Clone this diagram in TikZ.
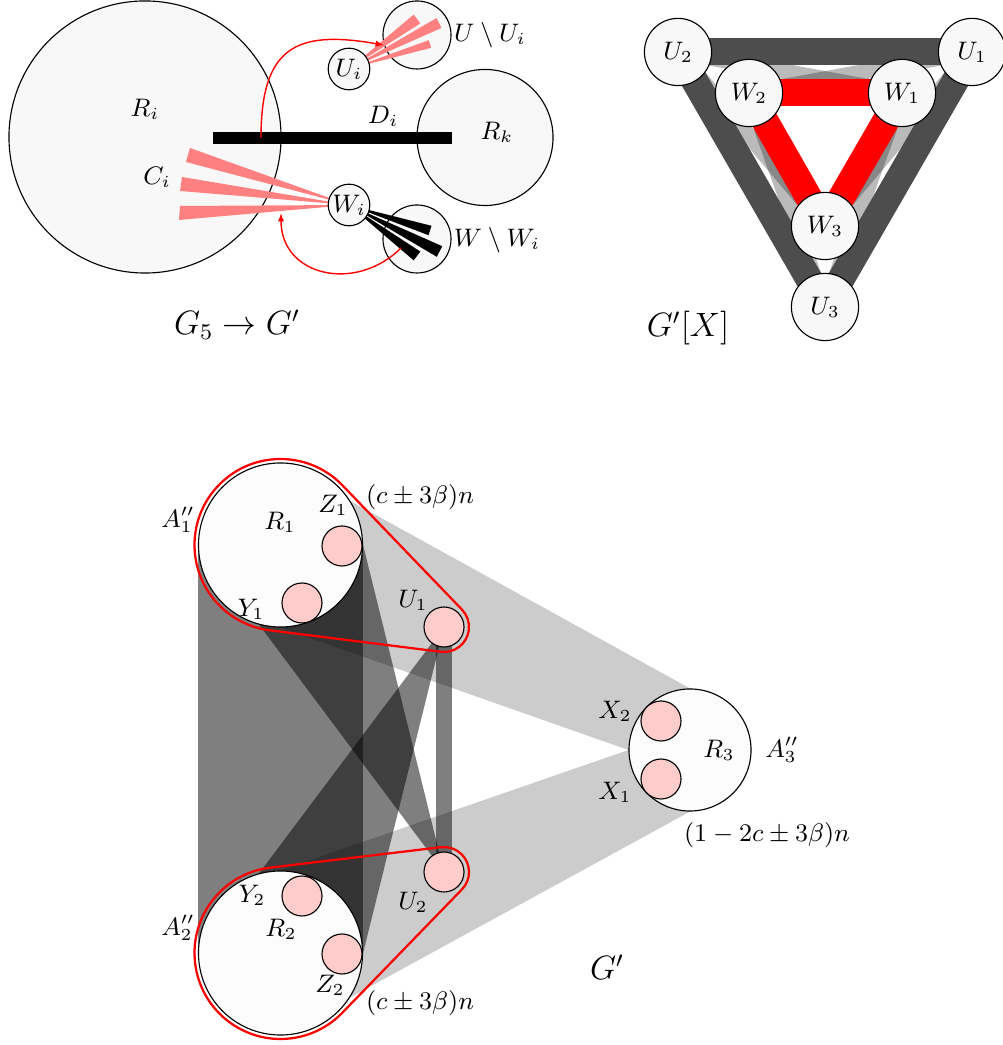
\documentclass[tikz,border=0pt]{standalone}
\usepackage{tikz}
\usetikzlibrary{arrows.meta,calc,backgrounds}
\definecolor{setfill}{HTML}{F8F8F8}
\definecolor{partfill}{HTML}{FCFCFC}
\definecolor{subfill}{HTML}{FFCCCC}
\definecolor{wedgepink}{HTML}{FF8080}
\definecolor{heavygray}{HTML}{4D4D4D}

\begin{document}
\begin{tikzpicture}[
    x=0.0125cm, y=0.0125cm, font=\small,
    set/.style={circle, draw, fill=setfill, inner sep=0pt},
    part/.style={circle, draw, fill=partfill, inner sep=0pt},
    sub/.style={circle, draw, fill=subfill, inner sep=0pt, minimum size=0.5cm},
    vtx/.style={circle, draw, fill=setfill, inner sep=0pt, minimum size=0.84cm},
    link/.style={-{Latex[length=3pt]}, red, line width=0.5pt},
    heavy/.style={line width=9.6pt, color=heavygray},
    redge/.style={line width=9.6pt, color=red},
    faint/.style={line width=5.5pt, color=black, opacity=0.27},
    dense/.style={fill=black, fill opacity=0.5},
    sparse/.style={fill=black, fill opacity=0.2},
    hull/.style={draw=red, line width=0.8pt},
    title/.style={font=\large}
]
\useasboundingbox (0,0) rectangle (1002,1045);

% G_5 -> G'
\node[set, minimum size=3.4cm] (Ri) at (145,908) {};
\node[set, minimum size=1.7cm] (Rk) at (485,907.5) {};
\node[set, minimum size=0.85cm] (UU) at (417,1010) {};
\node[set, minimum size=0.85cm] (WW) at (417,806) {};
\coordinate (Ucen) at (349,976);
\coordinate (Wcen) at (349,840);
\foreach \ax/\ay/\bx/\by in {420.3/1021.6/413.7/1030.4, 441.5/1017.1/436.5/1026.9, 431.2/997.2/428.8/1004.8}
    \fill[wedgepink] (Ucen) -- (\ax,\ay) -- (\bx,\by) -- cycle;
\foreach \ax/\ay/\bx/\by in {190/897/186/883, 182/868/180/854, 180/839/179/825}
    \fill[wedgepink] (Wcen) -- (\ax,\ay) -- (\bx,\by) -- cycle;
\foreach \ax/\ay/\bx/\by in {431.5/819.2/428.5/809.8, 442.2/798.8/436.8/788.2, 420.3/793.4/413.7/784.6}
    \fill[black] (Wcen) -- (\ax,\ay) -- (\bx,\by) -- cycle;
\node[set, minimum size=0.52cm] (Ui) at (Ucen) {$U_i$};
\node[set, minimum size=0.52cm] (Wi) at (Wcen) {$W_i$};
\coordinate (Dl) at (213,907);
\coordinate (Dr) at (452,907);
\draw[line width=4.6pt] (Dl) -- (Dr);
\node (RiLab) at (145,936) {$R_i$};
\node (CiLab) at (157,868) {$C_i$};
\node (DiLab) at (383,929) {$D_i$};
\node (RkLab) at (497,913) {$R_k$};
\node (UULab) at (490,1010) {$U\setminus U_i$};
\node (WWLab) at (497,805) {$W\setminus W_i$};
\coordinate (Dstart) at (261,907);
\coordinate (Wstart) at (401,797);
\coordinate (Ctip) at (281,832);
\draw[link] (Dstart) to[out=90, in=170, looseness=1.5] (UU.197);
\draw[link] (Wstart) to[out=-135, in=-90, looseness=1.3] (Ctip);
\node[title] (titleA) at (237,720) {$G_5\to G'$};

% G'[X]
\node[vtx] (u2) at (678,993) {$U_2$};
\node[vtx] (u1) at (972,993) {$U_1$};
\node[vtx] (w2) at (749,952) {$W_2$};
\node[vtx] (w1) at (902,952) {$W_1$};
\node[vtx] (w3) at (825,819) {$W_3$};
\node[vtx] (u3) at (825,738) {$U_3$};
\begin{scope}[on background layer]
    \foreach \a/\b in {u2/w1, u1/w2, u2/w3, u3/w2, u1/w3, u3/w1}
        \draw[faint] (\a.center) -- (\b.center);
    \foreach \a/\b in {u2/u1, u1/u3, u3/u2}
        \draw[heavy] (\a.center) -- (\b.center);
    \foreach \a/\b in {w2/w1, w1/w3, w3/w2}
        \draw[redge] (\a.center) -- (\b.center);
\end{scope}
\node[title] (titleB) at (688,717) {$G'[X]$};

% G'
\node[part, minimum size=2.05cm] (R1) at (280.5,500) {};
\node[part, minimum size=2.05cm] (R2) at (280.5,92) {};
\node[part, minimum size=1.525cm] (R3) at (690,295) {};
\node[sub] (Z1) at (342,499) {};
\node[sub] (Y1) at (302,442) {};
\node[sub] (U1) at (444,418) {};
\node[sub] (Y2) at (302,149) {};
\node[sub] (Z2) at (342,91) {};
\node[sub] (U2) at (444,173) {};
\node[sub] (X2) at (661,324) {};
\node[sub] (X1) at (661,266) {};
\begin{scope}[on background layer]
    \fill[sparse] (R1.north) -- (R3.north) -- (R3.west) -- (R1.south) -- cycle;
    \fill[sparse] (R2.north) -- (R3.west) -- (R3.south) -- (R2.south) -- cycle;
    \fill[dense] (R1.west) -- (R1.east) -- (R2.east) -- (R2.west) -- cycle;
    \fill[dense] (R1.-105) -- (R1.east) -- (U2.center) -- cycle;
    \fill[dense] (R2.105) -- (R2.east) -- (U1.center) -- cycle;
    \draw[line width=6pt, opacity=0.5] (U1.center) -- (U2.center);
\end{scope}
\draw[hull] ($(R1)+(43.88:86)$) arc[start angle=43.88, end angle=262.84, radius=86]
    -- ($(U1)+(262.84:25)$) arc[start angle=-97.16, end angle=43.88, radius=25] -- cycle;
\draw[hull] ($(R2)+(96.83:86)$) arc[start angle=96.83, end angle=315.89, radius=86]
    -- ($(U2)+(-44.11:25)$) arc[start angle=-44.11, end angle=96.83, radius=25] -- cycle;
\node (A1) at (178,525) {$A''_1$};
\node (R1Lab) at (280,523) {$R_1$};
\node (Z1Lab) at (333,540) {$Z_1$};
\node (Y1Lab) at (251,436) {$Y_1$};
\node (U1Lab) at (413,445) {$U_1$};
\node (S1) at (420,548) {$(c\pm 3\beta)n$};
\node (A2) at (178,117) {$A''_2$};
\node (R2Lab) at (281,116) {$R_2$};
\node (Z2Lab) at (330,60) {$Z_2$};
\node (Y2Lab) at (252,150) {$Y_2$};
\node (U2Lab) at (413,143) {$U_2$};
\node (S2) at (420,42) {$(c\pm 3\beta)n$};
\node (X2Lab) at (615,334) {$X_2$};
\node (X1Lab) at (615,253) {$X_1$};
\node (R3Lab) at (719,295) {$R_3$};
\node (A3) at (782,295) {$A''_3$};
\node (S3) at (767,210) {$(1-2c\pm 3\beta)n$};
\node[title] (titleC) at (607,78) {$G'$};
\end{tikzpicture}
\end{document}
